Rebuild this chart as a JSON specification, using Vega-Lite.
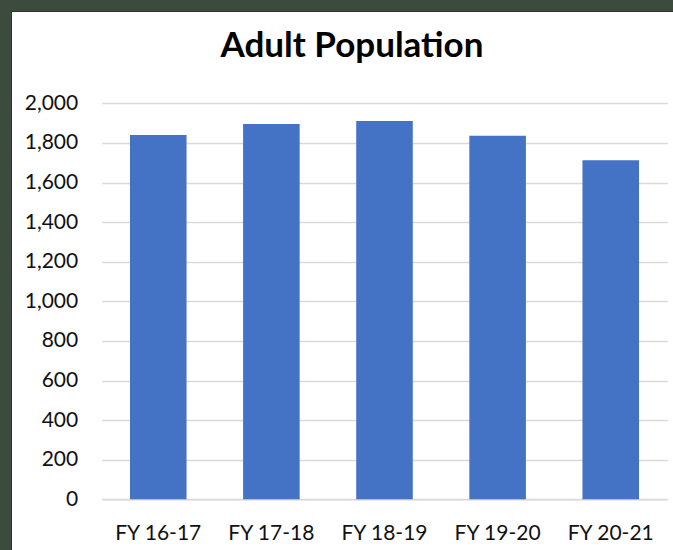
{
  "$schema": "https://vega.github.io/schema/vega-lite/v6.json",
  "width": 662,
  "height": 539,
  "autosize": {"type": "none"},
  "padding": {"left": 11, "top": 11, "right": 0, "bottom": 0},
  "background": "#3d4b3f",
  "title": {
    "text": "Adult Population",
    "font": "Lato",
    "fontSize": 35,
    "fontWeight": "bold",
    "color": "#000000",
    "anchor": "middle",
    "baseline": "alphabetic",
    "offset": 0,
    "dy": 81,
    "dx": 10
  },
  "config": {
    "view": {"fill": "#ffffff", "stroke": "#2c362e", "strokeWidth": 1}
  },
  "data": {
    "values": [
      {"year": "FY 16-17", "population": 1840},
      {"year": "FY 17-18", "population": 1895},
      {"year": "FY 18-19", "population": 1910},
      {"year": "FY 19-20", "population": 1836},
      {"year": "FY 20-21", "population": 1712}
    ]
  },
  "mark": {"type": "bar", "color": "#4472c4"},
  "encoding": {
    "x": {
      "field": "year",
      "type": "nominal",
      "sort": null,
      "scale": {"range": [90.7, 656.3], "paddingInner": 0.5, "paddingOuter": 0.25},
      "axis": {
        "title": null,
        "offset": -50.7,
        "ticks": false,
        "domainColor": "#d9d9d9",
        "domainWidth": 1.3,
        "labelFont": "Lato",
        "labelFontSize": 21,
        "labelColor": "#111111",
        "labelBaseline": "alphabetic",
        "labelPadding": 40,
        "labelAngle": 0,
        "grid": false
      }
    },
    "y": {
      "field": "population",
      "type": "quantitative",
      "scale": {"domain": [0, 2000], "nice": false, "range": [488.3, 92.3]},
      "axis": {
        "title": null,
        "offset": -90.7,
        "ticks": false,
        "domain": false,
        "values": [0, 200, 400, 600, 800, 1000, 1200, 1400, 1600, 1800, 2000],
        "format": ",d",
        "grid": true,
        "gridColor": "#d9d9d9",
        "gridWidth": 1.3,
        "labelFont": "Lato",
        "labelFontSize": 21,
        "labelColor": "#111111",
        "labelPadding": 24,
        "labelBaseline": "middle"
      }
    }
  }
}
